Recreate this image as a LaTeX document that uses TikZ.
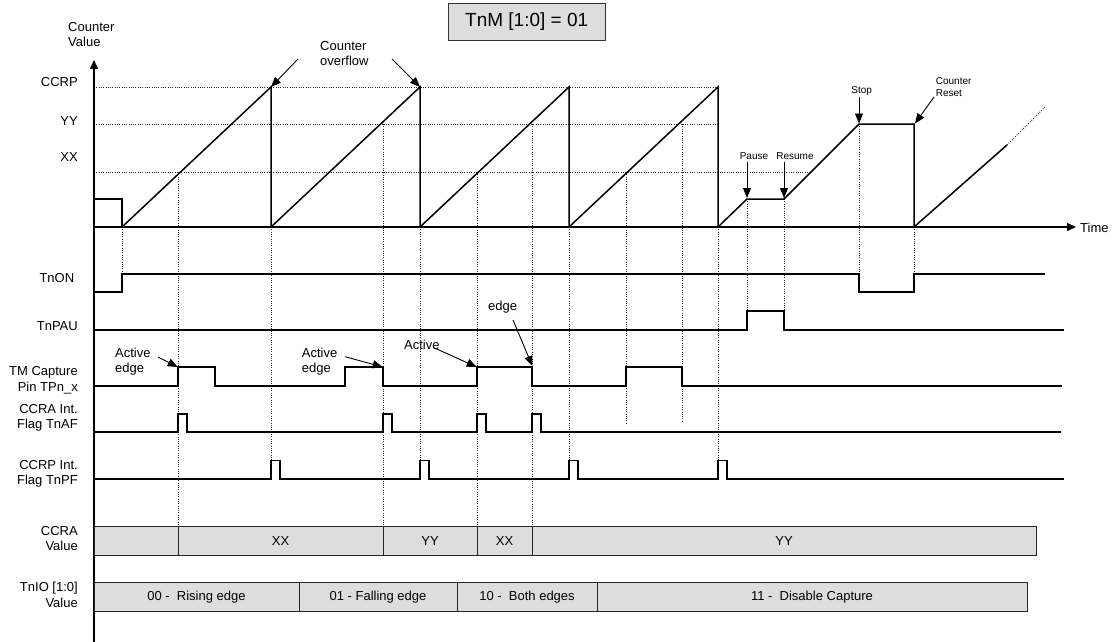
\documentclass[tikz,border=0pt]{standalone}
\usepackage{fontspec}
\setmainfont{Liberation Sans}
\usetikzlibrary{arrows.meta, positioning}
\definecolor{barfill}{RGB}{221,221,221}
\definecolor{guidegray}{RGB}{40,40,40}
\tikzset{
  sig/.style={line width=1.5pt, line join=miter},
  guide/.style={guidegray, line width=0.7pt, dash pattern=on 1pt off 1.3pt},
  axistip/.style={-{Triangle[length=9pt,width=8pt]}},
  callout/.style={line width=0.9pt, -{Triangle[length=10pt,width=8pt]}},
  lbl/.style={font=\fontsize{13}{15.5}\selectfont, inner sep=0pt},
  sidelbl/.style={lbl, anchor=east, align=right},
  smalllbl/.style={font=\fontsize{10}{12.5}\selectfont, inner sep=0pt},
  bar/.style={fill=barfill, draw=black!85, line width=1pt},
}
\begin{document}
\begin{tikzpicture}[x=1pt,y=-1pt]
\useasboundingbox (0,0) rectangle (1112,642);
% modo
\node[draw=black!80, fill=barfill, line width=0.8pt, minimum width=157pt, minimum height=37pt,
  font=\fontsize{19}{22}\selectfont] (mode) at (526.7,22) {TnM [1:0] = 01};
% ejes
\node[lbl, anchor=west, align=left] (ylbl) at (68,34.5) {Counter\\Value};
\node[sidelbl] (lvlP) at (78,82) {CCRP};
\node[sidelbl] (lvlY) at (78,120.7) {YY};
\node[sidelbl] (lvlX) at (78,157) {XX};
\node[lbl, anchor=west] (tlbl) at (1080,228) {Time};
\coordinate (origin) at (94,227);
\coordinate (ytop) at (94,60);
\coordinate (ybot) at (94,642);
\coordinate (tend) at (1076,227);
% lineas guia
\draw[guide] (94,87) -- (718,87);
\draw[guide] (94,124) -- (718,124);
\draw[guide] (94,172) -- (810,172);
\foreach \x/\ya/\yb in {122/227/274, 178/172/526, 271/227/460, 383/124/526, 420/227/460,
  477/172/526, 532/124/526, 569/227/460, 626/172/423, 682/124/423, 718/227/460,
  747/199/311, 784/199/311, 859/124/274, 914/227/274}
  \draw[guide] (\x,\ya) -- (\x,\yb);
\draw[sig, axistip] (ybot) -- (ytop);
\draw[sig, axistip] (origin) -- (tend);
% contador
\draw[sig] (94,199) -- (122,199) -- (122,227);
\foreach \t in {122,271,420,569}
  \draw[sig] (\t,227) -- (\t+149,87) -- (\t+149,227);
\draw[sig] (718,227) -- (747,199) -- (784,199) -- (859,124) -- (914,124) -- (914,227) -- (1007,145);
\draw[guide, line width=0.8pt] (1007,145) -- (1045,107);
% rotulos del contador
\node[lbl, anchor=west, align=left] (ovf) at (320,53.7) {Counter\\overflow};
\coordinate (ovfA) at (298,59);
\coordinate (ovfB) at (392,59);
\draw[callout] (ovfA) -- (271,87);
\draw[callout] (ovfB) -- (420,87);
\node[smalllbl] (pause) at (754,156) {Pause};
\node[smalllbl] (resume) at (795,156) {Resume};
\node[smalllbl] (stop) at (861.7,90.7) {Stop};
\node[smalllbl, anchor=west, align=left] (reset) at (935.7,87) {Counter\\Reset};
\draw[callout] (747,162) -- (747,198);
\draw[callout] (784,162) -- (784,198);
\draw[callout] (859,97) -- (859,123.5);
\coordinate (rstA) at (934,97);
\draw[callout] (rstA) -- (915,123.5);
% senales
\node[sidelbl] (lblON) at (78,278.3) {TnON\ };
\node[sidelbl] (lblPAU) at (78,326) {TnPAU};
\node[sidelbl] (lblCAP) at (78,380.5) {TM Capture\\Pin TPn\_x};
\node[sidelbl] (lblAF) at (78,418) {CCRA Int.\\Flag TnAF};
\node[sidelbl] (lblPF) at (78,474) {CCRP Int.\\Flag TnPF};
\draw[sig] (94,292) -- (122,292) -- (122,274) -- (859,274) -- (859,292) -- (914,292) -- (914,274) -- (1045,274);
\draw[sig] (94,330) -- (747,330) -- (747,311) -- (784,311) -- (784,330) -- (1064,330);
\draw[sig] (94,386) \foreach \a/\b in {178/215,345/383,477/532,626/682}
  {-- (\a,386) -- (\a,367) -- (\b,367) -- (\b,386)} -- (1062,386);
\draw[sig] (94,432) \foreach \a in {178,383,477,532}
  {-- (\a,432) -- (\a,414) -- (\a+9,414) -- (\a+9,432)} -- (1061,432);
\draw[sig] (94,479) \foreach \a in {271,420,569,718}
  {-- (\a,479) -- (\a,460.5) -- (\a+9,460.5) -- (\a+9,479)} -- (1064,479);
% flancos activos
\node[lbl, anchor=west, align=left] (act1) at (115,361.5) {Active\\edge};
\node[lbl, anchor=west, align=left] (act2) at (301.7,361.5) {Active\\edge};
\node[lbl, anchor=west] (act3) at (404,345) {Active};
\node[lbl] (edge3) at (502.7,306.7) {edge};
\coordinate (act1a) at (158,357);
\coordinate (act2a) at (345,356.7);
\coordinate (act3a) at (433,347.3);
\coordinate (edge3a) at (513,320);
\draw[callout] (act1a) -- (177.7,367);
\draw[callout] (act2a) -- (382.7,367);
\draw[callout] (act3a) -- (476.7,367);
\draw[callout] (edge3a) -- (532.3,366);
% registros
\node[sidelbl] (lblCCRA) at (78,538.7) {CCRA\\Value};
\node[sidelbl] (lblIO) at (78,594.7) {TnIO [1:0]\\Value};
\draw[bar] (94,526) rectangle (1036,555);
\foreach \x in {178,383,477,532} \draw[black!85, line width=1pt] (\x,526) -- (\x,555);
\foreach \x/\v in {280.5/XX, 430/YY, 504.5/XX, 784/YY}
  \node[lbl] at (\x,540.7) {\v};
\draw[bar] (94,582) rectangle (1027,611);
\foreach \x in {299,457,597} \draw[black!85, line width=1pt] (\x,582) -- (\x,611);
\node[lbl] (io0) at (196.5,596.7) {00 -~ Rising edge};
\node[lbl] (io1) at (378,596.7) {01 - Falling edge};
\node[lbl] (io2) at (527,596.7) {10 -~ Both edges};
\node[lbl] (io3) at (812,596.7) {11 -~ Disable Capture};
\end{tikzpicture}
\end{document}
